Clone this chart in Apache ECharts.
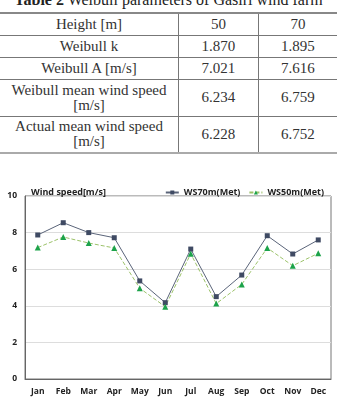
<!DOCTYPE html>
<html>
<head>
<meta charset="utf-8">
<script src="https://cdn.jsdelivr.net/npm/echarts@6/dist/echarts.min.js"></script>
<style>
  body { margin: 0; width: 337px; height: 399px; overflow: hidden; background: #fff; position: relative; }
  #cap { position: absolute; top: -9px; left: 0; width: 337px; text-align: center;
         font-family: "Liberation Serif", serif; font-size: 16px; color: #222; white-space: nowrap; }
  table { position: absolute; top: 12px; left: 0; width: 337px; border-collapse: collapse;
          font-family: "Liberation Serif", serif; font-size: 15px; color: #333; }
  td { border: 1px solid #777; text-align: center; padding: 0; line-height: 15px; }
  tr:first-child td { border-top: 2px solid #888; }
  tr:last-child td { border-bottom: 2px solid #aaa; }
  td:first-child { border-left: none; width: 178px; }
  td:last-child { border-right: none; }
  #chart { position: absolute; top: 160px; left: 0; width: 337px; height: 239px; }
</style>
</head>
<body>
<div id="cap"><b>Table 2</b> Weibull parameters of Gasiri wind farm</div>
<table id="tab"></table>
<div id="chart"></div>
<script>
// 表格数据
var tableRows = [
  ['Height [m]', '50', '70'],
  ['Weibull k', '1.870', '1.895'],
  ['Weibull A [m/s]', '7.021', '7.616'],
  ['Weibull mean wind speed<br>[m/s]', '6.234', '6.759'],
  ['Actual mean wind speed<br>[m/s]', '6.228', '6.752']
];
var rowHeights = [22, 22, 22, 37, 37];

// 折线图数据
var months = ['Jan', 'Feb', 'Mar', 'Apr', 'May', 'Jun', 'Jul', 'Aug', 'Sep', 'Oct', 'Nov', 'Dec'];
var ws70 = [7.87, 8.54, 8.0, 7.72, 5.36, 4.17, 7.10, 4.5, 5.68, 7.83, 6.83, 7.6];
var ws50 = [7.18, 7.76, 7.43, 7.16, 4.96, 3.95, 6.85, 4.12, 5.17, 7.16, 6.19, 6.87];

var html = '';
tableRows.forEach(function (r, i) {
  html += '<tr style="height:' + rowHeights[i] + 'px">';
  r.forEach(function (c) { html += '<td>' + c + '</td>'; });
  html += '</tr>';
});
document.getElementById('tab').innerHTML = html;

var font = 'Open Sans';
var txt = { fontSize: 9, fontWeight: 'bold', color: '#222', fontFamily: font };
var option = {
  animation: false,
  title: {
    text: 'Wind speed[m/s]',
    left: 26, top: 23,
    textStyle: txt
  },
  legend: {
    right: 8, top: 23,
    itemWidth: 13, itemHeight: 5, itemGap: 8,
    textStyle: txt,
    data: ['WS70m(Met)', 'WS50m(Met)']
  },
  grid: { left: 25, right: 6, top: 36, bottom: 20, show: true, borderColor: '#777', borderWidth: 1 },
  xAxis: {
    type: 'category',
    data: months,
    axisLine: { lineStyle: { color: '#666' } },
    axisTick: { alignWithLabel: true, inside: true, length: 2, lineStyle: { color: '#999' } },
    axisLabel: Object.assign({ margin: 8 }, txt, { fontSize: 8.5 })
  },
  yAxis: {
    type: 'value',
    min: 0, max: 10, interval: 2,
    axisLine: { show: true, lineStyle: { color: '#666' } },
    axisTick: { show: false },
    splitLine: { lineStyle: { color: '#ddd' } },
    axisLabel: Object.assign({ margin: 8 }, txt, { fontSize: 8.5 })
  },
  series: [
    {
      name: 'WS70m(Met)', type: 'line', data: ws70,
      symbol: 'rect', symbolSize: 5,
      itemStyle: { color: '#3f4a63' },
      lineStyle: { color: '#5a6479', width: 1 }
    },
    {
      name: 'WS50m(Met)', type: 'line', data: ws50,
      symbol: 'triangle', symbolSize: 6,
      itemStyle: { color: '#1ca34a' },
      lineStyle: { color: '#9cc26a', width: 1, type: [4, 2] }
    }
  ]
};
var chart = echarts.init(document.getElementById('chart'));
chart.setOption(option);
</script>
</body>
</html>
